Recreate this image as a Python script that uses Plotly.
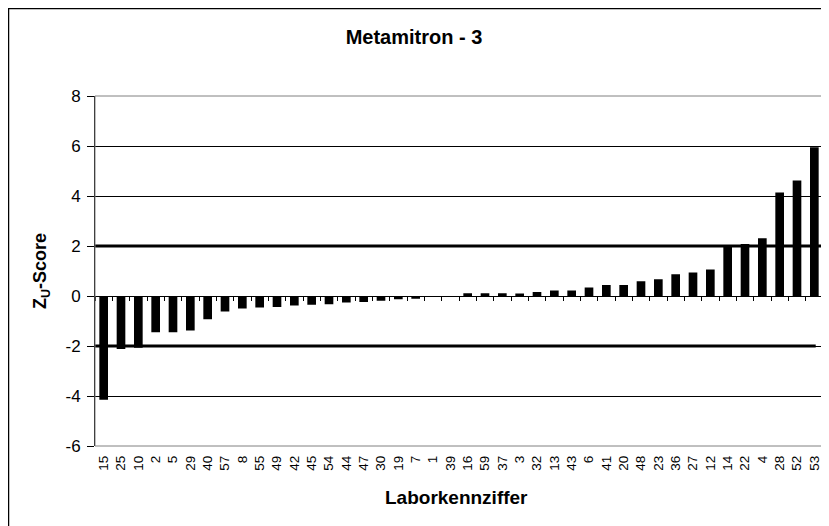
import plotly.graph_objects as go

labs = ["15", "25", "10", "2", "5", "29", "40", "57", "8", "55", "49", "42", "45", "54",
        "44", "47", "30", "19", "7", "1", "39", "16", "59", "37", "3", "32", "13", "43",
        "6", "41", "20", "48", "23", "36", "27", "12", "14", "22", "4", "28", "52", "53"]
zscores = [-4.15, -2.12, -2.07, -1.45, -1.45, -1.38, -0.93, -0.62, -0.5, -0.46, -0.44,
           -0.38, -0.35, -0.33, -0.26, -0.24, -0.19, -0.13, -0.11, 0.0, 0.0, 0.11, 0.11,
           0.11, 0.1, 0.16, 0.22, 0.22, 0.34, 0.44, 0.44, 0.59, 0.67, 0.87, 0.94, 1.06,
           1.98, 2.08, 2.31, 4.14, 4.62, 5.95]
limits = [2, -2]
yticks = [-6, -4, -2, 0, 2, 4, 6, 8]
ytext = ["-6", "-4", "-2", "0", "2", "4", "6", "8"]

FONT = "Arial, Liberation Sans, sans-serif"
xr = [-0.5, len(labs) - 0.5]

# figure is placed 8px in from the page corner by the page's body margin
W, H = 821, 518
L, R, T, B = 87, 6, 88, 80
PW, PH = W - L - R, H - T - B

fig = go.Figure()
fig.add_trace(go.Bar(x=labs, y=zscores, marker=dict(color="black", line=dict(width=0)),
                     showlegend=False, hoverinfo="x+y"))
# invisible trace to drive the tick marks on the zero line
fig.add_trace(go.Scatter(x=labs, y=[0] * len(labs), xaxis="x2", mode="lines",
                         line=dict(width=0), opacity=0, showlegend=False, hoverinfo="skip"))

fig.add_hline(y=limits[0], line=dict(color="black", width=3), layer="above")
fig.add_hline(y=limits[1], x1=0.99, line=dict(color="black", width=3), layer="above")

fig.update_layout(
    width=W, height=H,
    margin=dict(l=L, r=R, t=T, b=B, autoexpand=False),
    paper_bgcolor="white", plot_bgcolor="white",
    bargap=0.5,
    font=dict(family=FONT, color="black", size=13),
    title=dict(text="<b>Metamitron - 3</b>", x=(414 - 8) / W, xanchor="center",
               y=1 - 29 / H, yanchor="middle", yref="container",
               font=dict(size=20, family=FONT, color="black")),
    xaxis=dict(type="category", categoryorder="array", categoryarray=labs, range=xr,
               tickangle=-90, tickfont=dict(size=13.5, family=FONT), ticks="",
               ticklabelstandoff=6,
               showgrid=False, zeroline=False, showline=False, automargin=False),
    xaxis2=dict(type="category", categoryorder="array", categoryarray=labs, range=xr,
                overlaying="x", anchor="free", position=6 / 14, side="bottom",
                showticklabels=False, ticks="outside", tickson="boundaries",
                ticklen=4, tickcolor="black", tickwidth=1, automargin=False,
                showgrid=False, zeroline=False, showline=True, linecolor="black", linewidth=1),
    yaxis=dict(range=[-6, 8], tickvals=yticks, ticktext=ytext, ticks="outside", ticklen=7,
               tickcolor="black", tickfont=dict(size=17, family=FONT), ticklabelstandoff=3,
               showgrid=True, gridcolor="black", gridwidth=1, automargin=False,
               zeroline=False, showline=True, linecolor="black", linewidth=1),
    annotations=[
        dict(text="<b>Laborkennziffer</b>", xref="paper", yref="paper",
             x=(456 - 95) / PW, y=-(497 - 446) / PH, xanchor="center", yanchor="middle",
             showarrow=False, font=dict(size=19, family=FONT, color="black")),
        dict(text="<b>Z<sub>U</sub>-Score</b>", xref="paper", yref="paper",
             x=(41 - 95) / PW, y=(446 - 271) / PH, xanchor="center", yanchor="middle",
             textangle=-90, showarrow=False, font=dict(size=18, family=FONT, color="black")),
    ],
)

# plot-area border (gray)
fig.add_shape(type="rect", xref="paper", yref="paper", x0=0, x1=1, y0=0, y1=1,
              line=dict(color="#808080", width=1), layer="above")
# outer chart border
fig.add_shape(type="rect", xref="paper", yref="paper",
              x0=(0.5 - L) / PW, x1=1 + (R + 10) / PW, y0=-(B + 10) / PH, y1=1 + (T - 0.5) / PH,
              line=dict(color="black", width=1.5), layer="above")

fig.write_html("out.html")
